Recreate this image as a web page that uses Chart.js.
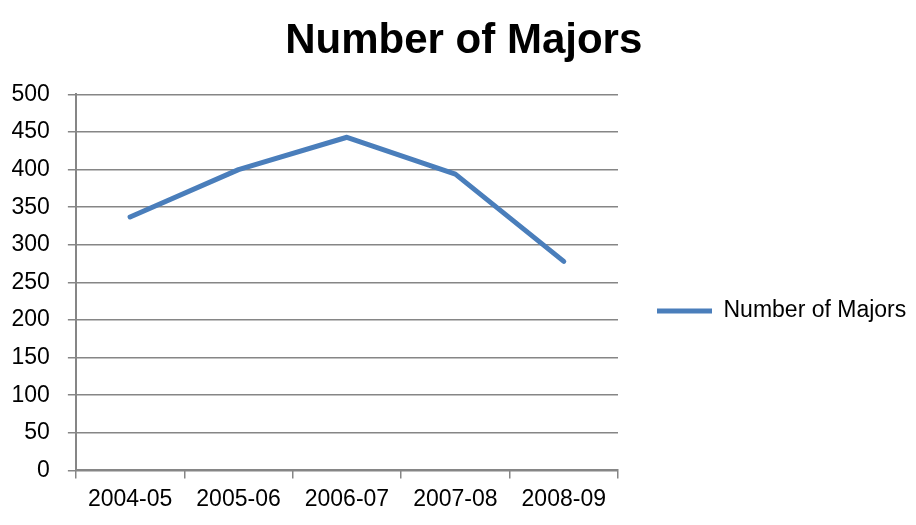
<!DOCTYPE html>
<html>
<head>
<meta charset="utf-8">
<title>Number of Majors</title>
<script src="https://cdn.jsdelivr.net/npm/chart.js@4"></script>
<style>
  body { margin: 0; background: #fff; }
  #box { width: 916px; height: 525px; }
</style>
</head>
<body>
<div id="box"><canvas id="grafico"></canvas></div>
<script>
// dados
const anos = ["2004-05", "2005-06", "2006-07", "2007-08", "2008-09"];
const majors = [337, 400, 443, 394, 278];
const yTicks = [0, 50, 100, 150, 200, 250, 300, 350, 400, 450, 500];

const fonte = "'Liberation Sans', Arial, sans-serif";
const cinza = "#868686";

const ctx = document.getElementById("grafico").getContext("2d");

const chart = new Chart(ctx, {
  type: "line",
  data: {
    labels: anos,
    datasets: [{
      label: "Number of Majors",
      data: majors,
      borderColor: "#4a7ebb",
      backgroundColor: "#4a7ebb",
      borderWidth: 5,
      borderCapStyle: "round",
      borderJoinStyle: "round",
      tension: 0,
      pointRadius: 0,
      fill: false
    }]
  },
  options: {
    responsive: true,
    maintainAspectRatio: false,
    devicePixelRatio: 1,
    animation: false,
    layout: {
      padding: { left: 11.5, right: 0, top: 0, bottom: 5 }
    },
    scales: {
      x: {
        offset: true,
        grid: {
          offset: true,
          drawOnChartArea: false,
          color: cinza,
          lineWidth: 1.5,
          tickLength: 8
        },
        border: { display: true, color: cinza, width: 2 },
        ticks: {
          color: "#000",
          padding: 7,
          maxRotation: 0,
          font: { family: fonte, size: 23 }
        }
      },
      y: {
        min: 0,
        max: 500,
        afterBuildTicks: function (axis) {
          axis.ticks = yTicks.map(v => ({ value: v }));
        },
        // o Chart.js conta o padding dos dois lados do rótulo
        afterFit: function (axis) {
          axis.width -= 18;
        },
        grid: {
          color: cinza,
          lineWidth: 1.5,
          tickLength: 8
        },
        border: { display: true, color: cinza, width: 2 },
        ticks: {
          color: "#000",
          padding: 18,
          font: { family: fonte, size: 23 }
        }
      }
    },
    plugins: {
      title: {
        display: true,
        text: "Number of Majors",
        color: "#000",
        font: { family: fonte, size: 42, weight: "bold" },
        padding: { top: 16, bottom: 28 }
      },
      legend: {
        position: "right",
        fullSize: false,
        maxWidth: 298,
        title: {
          display: true,
          text: " ",
          font: { size: 10 },
          padding: { top: 22, bottom: 23 }
        },
        labels: {
          color: "#000",
          usePointStyle: true,
          pointStyle: "line",
          pointStyleWidth: 55,
          boxHeight: 23,
          padding: 39,
          font: { family: fonte, size: 23 }
        }
      },
      tooltip: { enabled: false }
    }
  }
});
</script>
</body>
</html>
